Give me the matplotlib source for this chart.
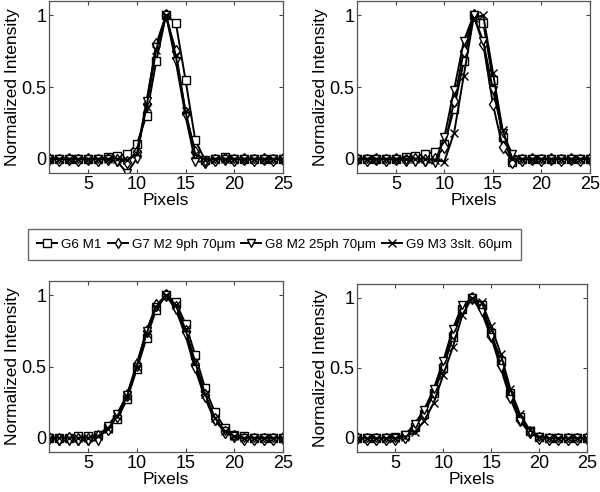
import numpy as np
import matplotlib
matplotlib.use('Agg')
import matplotlib.pyplot as plt

plt.rcParams['font.family'] = ['Liberation Sans', 'DejaVu Sans']

pixels = np.arange(1, 26)

labels = ['G6 M1', 'G7 M2 9ph 70\u03bcm', 'G8 M2 25ph 70\u03bcm', 'G9 M3 3slt. 60\u03bcm']
markers = ['s', 'd', 'v', 'x']

# top-left panel
tl_g6 = [0, 0, 0, 0, 0, 0, 0.01, 0.02, 0.03, 0.1, 0.3, 0.68, 1.0, 0.95, 0.55, 0.13, -0.01,
         0, 0.01, 0, 0, 0, 0, 0, 0]
tl_g7 = [0, -0.01, 0, -0.01, 0, -0.01, 0, -0.01, -0.02, 0.05, 0.38, 0.8, 1.0, 0.75, 0.32, 0.05, -0.02,
         -0.01, 0, -0.01, 0, -0.01, 0, -0.01, 0]
tl_g8 = [0, 0, 0, 0, 0, 0, 0, -0.02, -0.1, 0.0, 0.4, 0.78, 1.0, 0.68, 0.3, -0.02, -0.02,
         0, 0, 0, 0, 0, 0, 0, 0]
tl_g9 = [0, 0, 0, 0, 0, 0, 0, 0, -0.01, 0.03, 0.36, 0.76, 1.0, 0.72, 0.33, 0.03, -0.01,
         0, 0, 0, 0, 0, 0, 0, 0]

# top-right panel
tr_g6 = [0, 0, 0, 0, 0, 0.01, 0.02, 0.03, 0.05, 0.1, 0.35, 0.68, 1.0, 0.95, 0.55, 0.15, -0.02,
         0, 0, 0, 0, 0, 0, 0, 0]
tr_g7 = [0, -0.01, 0, -0.01, 0, -0.01, 0, -0.01, 0, 0.08, 0.4, 0.75, 1.0, 0.8, 0.38, 0.08, -0.02,
         -0.01, 0, -0.01, 0, -0.01, 0, -0.01, 0]
tr_g8 = [0, 0, 0, 0, 0, -0.01, -0.02, -0.02, -0.03, 0.15, 0.48, 0.82, 1.0, 0.82, 0.48, 0.18, 0.03,
         0, 0, 0, 0, 0, 0, 0, 0]
tr_g9 = [0, 0, 0, 0, 0, 0, 0, 0, -0.01, -0.02, 0.18, 0.58, 0.98, 1.0, 0.6, 0.2, 0.0,
         0, 0, 0, 0, 0, 0, 0, 0]

# bottom-left panel
bl_g6 = [0, 0, 0, 0.01, 0.01, 0.02, 0.07, 0.13, 0.27, 0.48, 0.7, 0.9, 1.0, 0.95, 0.8, 0.58, 0.35,
         0.18, 0.07, 0.02, 0.01, 0, 0, 0, 0]
bl_g7 = [0, -0.01, 0, -0.01, -0.01, 0.01, 0.06, 0.15, 0.3, 0.52, 0.75, 0.93, 1.0, 0.92, 0.75, 0.52, 0.3,
         0.13, 0.04, 0.01, -0.01, -0.01, -0.01, -0.01, 0]
bl_g8 = [0, -0.02, -0.02, -0.02, -0.02, -0.02, 0.08, 0.17, 0.3, 0.5, 0.75, 0.92, 1.0, 0.9, 0.72, 0.48, 0.28,
         0.12, 0.05, 0.01, 0, 0, 0, 0, 0]
bl_g9 = [0, 0, 0, 0, 0, 0.01, 0.06, 0.15, 0.29, 0.5, 0.73, 0.92, 1.0, 0.93, 0.76, 0.53, 0.31,
         0.14, 0.05, 0.01, 0, 0, 0, 0, 0]

# bottom-right panel
br_g6 = [0, 0, 0, 0, 0.01, 0.02, 0.08, 0.17, 0.32, 0.5, 0.72, 0.92, 1.0, 0.95, 0.75, 0.55, 0.32,
         0.15, 0.05, 0.01, 0, 0, 0, 0, 0]
br_g7 = [0, -0.01, -0.01, -0.01, -0.01, 0.01, 0.07, 0.18, 0.33, 0.52, 0.75, 0.93, 1.0, 0.93, 0.73, 0.52, 0.3,
         0.13, 0.04, 0.0, -0.01, -0.01, -0.01, -0.01, 0]
br_g8 = [0, 0, 0, 0, 0, 0.02, 0.1, 0.2, 0.35, 0.55, 0.78, 0.95, 1.0, 0.9, 0.72, 0.5, 0.28,
         0.12, 0.04, 0.01, 0, 0, 0, 0, 0]
br_g9 = [0, 0, 0, 0, 0, 0.01, 0.04, 0.12, 0.25, 0.45, 0.65, 0.88, 1.0, 0.97, 0.8, 0.6, 0.35,
         0.17, 0.06, 0.01, 0, 0, 0, 0, 0]

panels = [[tl_g6, tl_g7, tl_g8, tl_g9],
          [tr_g6, tr_g7, tr_g8, tr_g9],
          [bl_g6, bl_g7, bl_g8, bl_g9],
          [br_g6, br_g7, br_g8, br_g9]]

W, H = 600, 492
# axes boxes in pixels: x0, x1, y_top, y_bottom
boxes = [(49, 283, 1, 173), (357, 590, 1, 173), (49, 283, 281, 452), (357, 587, 284, 452)]

fig = plt.figure(figsize=(6, 4.92), dpi=100)
handles = []
for box, series in zip(boxes, panels):
    x0, x1, yt, yb = box
    ax = fig.add_axes([x0 / W, (H - yb) / H, (x1 - x0) / W, (yb - yt) / H])
    for i, (vals, m) in enumerate(zip(series, markers)):
        h, = ax.plot(pixels, vals, color='black', lw=1.4, marker=m, ms=6,
                     mfc='white' if m != 'x' else 'black', mec='black', mew=1.0, label=labels[i])
        if len(handles) < 4:
            handles.append(h)
    ax.set_xlim(1, 25)
    ax.set_ylim(-0.1, 1.1)
    ax.set_xticks([5, 10, 15, 20, 25])
    ax.set_yticks([0, 0.5, 1])
    ax.set_yticklabels(['0', '0.5', '1'])
    ax.tick_params(direction='in', top=True, right=True, labelsize=13, length=3, width=0.8,
                   color='#444444', pad=2)
    for s in ax.spines.values():
        s.set_color('#555555')
        s.set_linewidth(0.9)
    ax.set_xlabel('Pixels', fontsize=12.5, labelpad=0)
    ax.set_ylabel('Normalized Intensity', fontsize=12.5, labelpad=1)

leg = fig.legend(handles=handles, labels=labels, ncol=4, loc='center',
                 bbox_to_anchor=(274.5 / W, (H - 244.5) / H), fontsize=9.6,
                 frameon=True, fancybox=False, edgecolor='#444444', handlelength=1.5,
                 handletextpad=0.3, columnspacing=0.45, borderpad=0.7, borderaxespad=0,
                 markerscale=0.85)
leg.get_frame().set_linewidth(1.0)

fig.savefig('out.png', dpi=100)
